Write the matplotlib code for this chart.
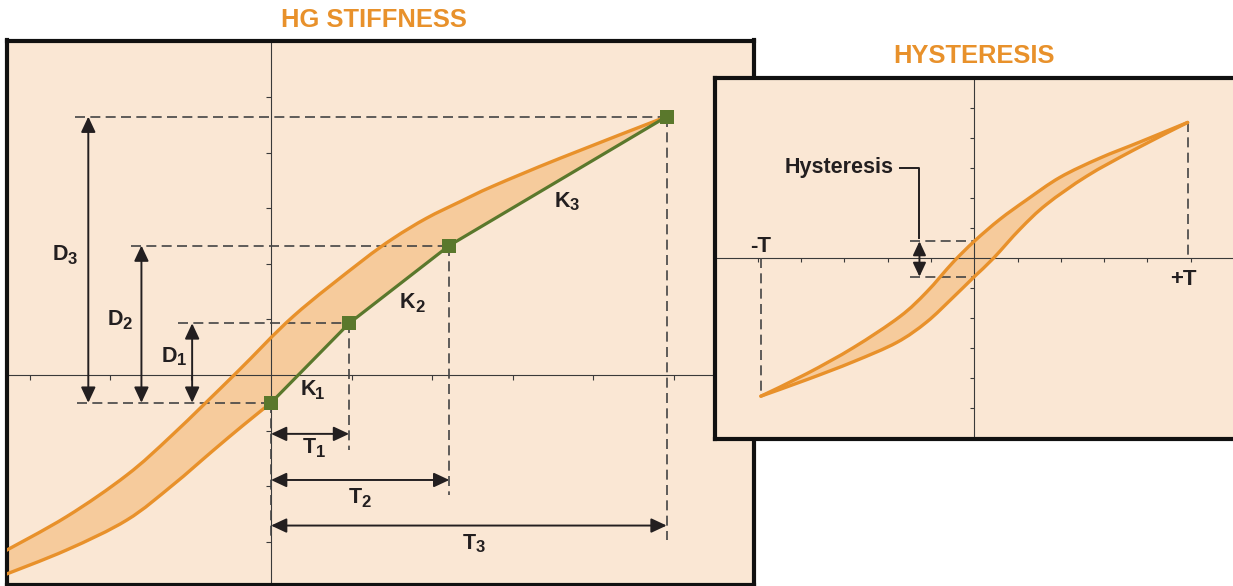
import numpy as np
import matplotlib
matplotlib.use("Agg")
import matplotlib.pyplot as plt
from matplotlib.path import Path
from matplotlib.patches import PathPatch
from matplotlib import font_manager

# ---------------- data ----------------
# HG stiffness panel (x in torque tick units, y in displacement tick units)
hg_upper_x = [-3.37, -2.54, -1.79, -1.22, -0.43, 0.28, 1.11, 1.52, 1.93, 2.35, 2.76, 3.59, 4.915]
hg_upper_y = [-3.22, -2.55, -1.80, -1.07, 0.04, 1.06, 2.03, 2.46, 2.82, 3.12, 3.40, 3.90, 4.65]
hg_lower_x = [-3.37, -2.54, -1.79, -1.22, -0.72, -0.35, 0.0]
hg_lower_y = [-3.63, -3.15, -2.61, -1.98, -1.36, -0.91, -0.50]
stiff_T = [0.0, 0.97, 2.215, 4.915]          # torque points (T1..T3)
stiff_D = [-0.50, 0.93, 2.33, 4.65]          # displacement points (D1..D3)
stiff_labels_D = [("D", "1"), ("D", "2"), ("D", "3")]
stiff_labels_T = [("T", "1"), ("T", "2"), ("T", "3")]
stiff_labels_K = [("K", "1"), ("K", "2"), ("K", "3")]

# Hysteresis panel
hy_T = 4.93
hy_upper_x = [-4.93, -3.87, -2.79, -1.72, -1.10, -0.49, 0.0, 0.59, 1.21, 1.98, 2.90, 3.83, 4.93]
hy_upper_y = [-4.59, -3.84, -2.97, -1.94, -1.12, -0.13, 0.57, 1.30, 1.95, 2.70, 3.34, 3.88, 4.53]
hy_lower_x = [-4.93, -3.87, -2.79, -1.79, -1.10, -0.49, 0.0, 0.44, 1.06, 1.67, 2.60, 3.67, 4.93]
hy_lower_y = [-4.59, -4.04, -3.44, -2.80, -2.12, -1.30, -0.61, 0.0, 0.98, 1.80, 2.74, 3.60, 4.53]

# ---------------- style ----------------
names = {f.name for f in font_manager.fontManager.ttflist}
FONT = "Liberation Sans" if "Liberation Sans" in names else "DejaVu Sans"
plt.rcParams["font.family"] = [FONT, "DejaVu Sans"]

BG = "#FAE7D4"
BAND = "#F6CB9C"
ORANGE = "#E8912B"
GREEN = "#5A782C"
INK = "#231F20"
AXC = "#3a3a3a"
DASH = "#444444"

W, H = 1233, 586
fig = plt.figure(figsize=(W / 100, H / 100), dpi=100)
fig.patch.set_facecolor("white")


def smooth(xs, ys):
    P = np.column_stack([xs, ys]).astype(float)
    n = len(P)
    verts = [P[0]]
    codes = [Path.MOVETO]
    for i in range(n - 1):
        p0 = P[i - 1] if i > 0 else P[i]
        p1, p2 = P[i], P[i + 1]
        p3 = P[i + 2] if i + 2 < n else P[i + 1]
        verts += [p1 + (p2 - p0) / 6, p2 - (p3 - p1) / 6, p2]
        codes += [Path.CURVE4] * 3
    return verts, codes


def stroke(ax, xs, ys, color, lw, z):
    v, c = smooth(xs, ys)
    ax.add_patch(PathPatch(Path(v, c), facecolor="none", edgecolor=color, lw=lw,
                           zorder=z, capstyle="round", joinstyle="round"))


def dashed(ax, xs, ys):
    ax.plot(xs, ys, color=DASH, lw=1.2, dashes=(6, 3.2), zorder=3)


def arrow(ax, p0, p1, ms=20):
    ax.annotate("", xy=p1, xytext=p0,
                arrowprops=dict(arrowstyle="<|-|>,head_length=0.47,head_width=0.22",
                                mutation_scale=ms, lw=1.4, color=INK,
                                shrinkA=0, shrinkB=0), zorder=6)


def sublabel(ax, x, y, main, sub, fs=15.5, sfs=12):
    t = ax.text(x, y, main, fontsize=fs, weight="bold", color=INK,
                ha="left", va="baseline", zorder=7)
    ax.annotate(sub, xy=(1, 0), xycoords=t, xytext=(-0.4, 1.0),
                textcoords="offset points", fontsize=sfs, weight="bold",
                color=INK, ha="left", va="baseline", zorder=7)


def panel(rect, xlim, ylim, right_spine=True, z=1):
    ax = fig.add_axes(rect, zorder=z)
    ax.set_xlim(*xlim)
    ax.set_ylim(*ylim)
    ax.set_facecolor(BG)
    ax.set_xticks([])
    ax.set_yticks([])
    for s in ax.spines.values():
        s.set_linewidth(3.0)
        s.set_color("#111111")
    if not right_spine:
        ax.spines["right"].set_visible(False)
    return ax


def fr(x0, y0, x1, y1):
    return [x0 / W, 1 - y1 / H, (x1 - x0) / W, (y1 - y0) / H]


# ---------------- HG stiffness panel ----------------
ax1 = panel(fr(7, 40.5, 754, 585), (-3.28, 6.0), (-3.78, 6.02), z=1)

# band fill: upper curve -> green line back -> lower curve back
vu, cu = smooth(hg_upper_x, hg_upper_y)
vl, cl = smooth(hg_lower_x[::-1], hg_lower_y[::-1])
verts = list(vu)
codes = list(cu)
for tx, dy in zip(stiff_T[::-1][1:], stiff_D[::-1][1:]):
    verts.append((tx, dy))
    codes.append(Path.LINETO)
verts += vl[1:]
codes += cl[1:]
verts.append(vu[0])
codes.append(Path.CLOSEPOLY)
ax1.add_patch(PathPatch(Path(verts, codes), facecolor=BAND, edgecolor="none", zorder=1))

ax1.axhline(0, color=AXC, lw=0.8, zorder=2)
ax1.axvline(0, color=AXC, lw=0.8, zorder=2)
tx1 = [v for v in range(-3, 6) if v != 0]
ty1 = [v for v in range(-3, 6) if v != 0]
ax1.plot(tx1, [0] * len(tx1), ls="none", marker=3, ms=3.5, mew=0.8, color=AXC, zorder=2)
ax1.plot([0] * len(ty1), ty1, ls="none", marker=0, ms=3.5, mew=0.8, color=AXC, zorder=2)

# dashed guides
d_start = [-2.41, -1.16, -1.74, -2.43]
dashed(ax1, [d_start[0], 0], [stiff_D[0], stiff_D[0]])
dashed(ax1, [d_start[1], stiff_T[1]], [stiff_D[1], stiff_D[1]])
dashed(ax1, [d_start[2], stiff_T[2]], [stiff_D[2], stiff_D[2]])
dashed(ax1, [d_start[3], stiff_T[3]], [stiff_D[3], stiff_D[3]])
t_arrow_y = [-1.06, -1.89, -2.71]
dashed(ax1, [0, 0], [stiff_D[0], -2.97])
dashed(ax1, [stiff_T[1], stiff_T[1]], [stiff_D[1], -1.35])
dashed(ax1, [stiff_T[2], stiff_T[2]], [stiff_D[2], -2.16])
dashed(ax1, [stiff_T[3], stiff_T[3]], [stiff_D[3], -2.97])

# curves
stroke(ax1, hg_upper_x, hg_upper_y, ORANGE, 2.4, 4)
stroke(ax1, hg_lower_x, hg_lower_y, ORANGE, 2.4, 4)
ax1.plot(stiff_T, stiff_D, color=GREEN, lw=2.3, marker="s", ms=9.5, mew=0, zorder=5)

# dimension arrows
d_arrow_x = [-0.98, -1.61, -2.27]
for xa, dv in zip(d_arrow_x, stiff_D[1:]):
    arrow(ax1, (xa, stiff_D[0]), (xa, dv))
for ya, tv in zip(t_arrow_y, stiff_T[1:]):
    arrow(ax1, (0, ya), (tv, ya))

d_lab_pos = [(-1.358, 0.239), (-2.03, 0.90), (-2.708, 2.068)]
t_lab_pos = [(0.398, -1.41), (0.969, -2.31), (2.385, -3.13)]
k_lab_pos = [(0.366, -0.36), (1.602, 1.20), (3.528, 3.027)]
for labs, poss in ((stiff_labels_D, d_lab_pos), (stiff_labels_T, t_lab_pos),
                   (stiff_labels_K, k_lab_pos)):
    for (m, s), (x, y) in zip(labs, poss):
        sublabel(ax1, x, y, m, s)

# ---------------- Hysteresis panel ----------------
ax2 = panel(fr(715, 78, 1240, 438.5), (-5.99, 6.14), (-6.0, 6.01), right_spine=False, z=3)

vu, cu = smooth(hy_upper_x, hy_upper_y)
vl, cl = smooth(hy_lower_x[::-1], hy_lower_y[::-1])
verts = list(vu) + vl[1:] + [vu[0]]
codes = list(cu) + cl[1:] + [Path.CLOSEPOLY]
ax2.add_patch(PathPatch(Path(verts, codes), facecolor=BAND, edgecolor="none", zorder=1))

ax2.axhline(0, color=AXC, lw=0.8, zorder=2)
ax2.axvline(0, color=AXC, lw=0.8, zorder=2)
t2 = [v for v in range(-5, 6) if v != 0]
ax2.plot(t2, [0] * len(t2), ls="none", marker=3, ms=3, mew=0.8, color=AXC, zorder=2)
ax2.plot([0] * len(t2), t2, ls="none", marker=0, ms=3, mew=0.8, color=AXC, zorder=2)

dashed(ax2, [-hy_T, -hy_T], [0, hy_lower_y[0]])
dashed(ax2, [hy_T, hy_T], [hy_upper_y[-1], 0])
hy_gap = [0.57, -0.61]
dashed(ax2, [-1.485, 0], [hy_gap[0], hy_gap[0]])
dashed(ax2, [-1.485, 0], [hy_gap[1], hy_gap[1]])

stroke(ax2, hy_upper_x, hy_upper_y, ORANGE, 2.4, 4)
stroke(ax2, hy_lower_x, hy_lower_y, ORANGE, 2.4, 4)

arrow(ax2, (-1.266, hy_gap[1]), (-1.266, hy_gap[0]), ms=18)
ax2.plot([-1.72, -1.266, -1.266], [3.0, 3.0, hy_gap[0] + 0.1], color=INK, lw=1.4, zorder=6)
ax2.text(-1.87, 2.83, "Hysteresis", fontsize=15.5, weight="bold", color=INK,
         ha="right", va="baseline", zorder=7)
ax2.text(-5.18, 0.22, "-T", fontsize=16, weight="bold", color=INK, ha="left", va="baseline")
ax2.text(4.52, -0.89, "+T", fontsize=16, weight="bold", color=INK, ha="left", va="baseline")

# ---------------- titles ----------------
fig.text(374 / W, 1 - 26.7 / H, "HG STIFFNESS", ha="center", va="baseline",
         fontsize=18.4, weight="bold", color=ORANGE)
fig.text(974 / W, 1 - 63.3 / H, "HYSTERESIS", ha="center", va="baseline",
         fontsize=18.4, weight="bold", color=ORANGE)

fig.savefig("out.png", dpi=100)
